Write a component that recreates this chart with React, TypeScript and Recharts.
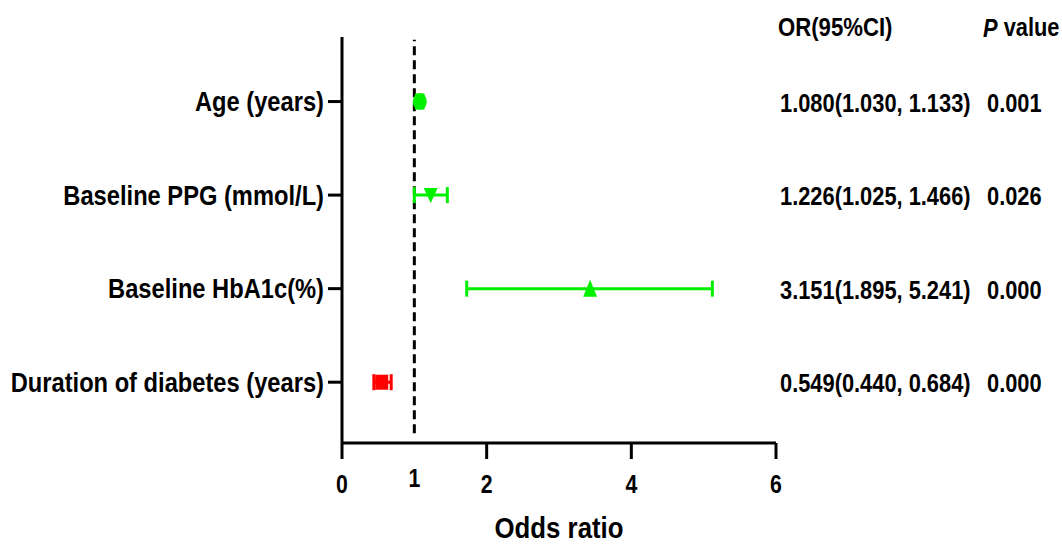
import React from 'react';
import { ScatterChart, Scatter, XAxis, YAxis, ErrorBar, ReferenceLine } from 'recharts';

const categories = ['Duration of diabetes (years)', 'Baseline HbA1c(%)', 'Baseline PPG (mmol/L)', 'Age (years)'];
const rowPositions = [1, 2, 3, 4];
const oddsRatios = [0.549, 3.43, 1.226, 1.075];
const ciLower = [0.44, 1.724, 1.0, 1.03];
const ciUpper = [0.68, 5.12, 1.456, 1.12];
const orLabels = ['0.549(0.440, 0.684)', '3.151(1.895, 5.241)', '1.226(1.025, 1.466)', '1.080(1.030, 1.133)'];
const pLabels = ['0.000', '0.000', '0.026', '0.001'];
const xTicks = [0, 1, 2, 4, 6];
const seriesColors = ['#ff0000', '#00f000', '#00f000', '#00f000'];

const FONT = '"Liberation Sans", Arial, sans-serif';

const rows = categories.map((c, i) => ({
  name: c,
  x: oddsRatios[i],
  y: rowPositions[i],
  err: [oddsRatios[i] - ciLower[i], ciUpper[i] - oddsRatios[i]],
}));

const NText = ({ x, y, size, sx = 0.85, anchor = 'start', children }: any) => (
  <text
    transform={`translate(${x},${y}) scale(${sx},1)`}
    x={0}
    y={0}
    textAnchor={anchor}
    dominantBaseline="central"
    fontSize={size}
    fontWeight="bold"
    fontFamily={FONT}
    fill="#000"
  >
    {children}
  </text>
);

const shapes: ((p: any, color: string) => React.ReactElement)[] = [
  (p, color) => <rect x={p.cx - 6.5} y={p.cy - 7.5} width={13} height={15} fill={color} />,
  (p, color) => (
    <polygon points={`${p.cx - 7},${p.cy + 8} ${p.cx + 7},${p.cy + 8} ${p.cx},${p.cy - 9}`} fill={color} />
  ),
  (p, color) => (
    <polygon points={`${p.cx - 7},${p.cy - 7} ${p.cx + 7},${p.cy - 7} ${p.cx},${p.cy + 8}`} fill={color} />
  ),
  (p, color) => <ellipse cx={p.cx} cy={p.cy} rx={7} ry={8.5} fill={color} />,
];

// Left tick: category label, plus the OR(95%CI) and P value columns of the same row.
const YTick = (props: any) => {
  const { x, y, payload } = props;
  const idx = rowPositions.indexOf(payload.value);
  return (
    <g>
      <NText x={x} y={y} size={27} sx={0.878} anchor="end">{categories[idx]}</NText>
      <NText x={x + 456} y={y + 1} size={26} sx={0.84}>{orLabels[idx]}</NText>
      <NText x={x + 663} y={y + 1} size={26} sx={0.84}>{pLabels[idx]}</NText>
    </g>
  );
};

const XTick = (props: any) => {
  const { x, y, payload } = props;
  const isRef = payload.value === 1;
  return (
    <g>
      {!isRef && <line x1={x} x2={x} y1={y} y2={y + 16} stroke="#000" strokeWidth={3} />}
      <NText x={x} y={y + (isRef ? 35 : 41)} size={25} anchor="middle">{payload.value}</NText>
    </g>
  );
};

const HeaderLabel = (props: any) => {
  const { viewBox } = props;
  const x = viewBox.x + viewBox.width;
  const y = viewBox.y - 10;
  return (
    <g>
      <NText x={x + 436} y={y} size={26} sx={0.852}>OR(95%CI)</NText>
      <text
        transform={`translate(${x + 641},${y}) scale(0.84,1)`}
        dominantBaseline="central"
        fontSize={26}
        fontWeight="bold"
        fontFamily={FONT}
        fill="#000"
      >
        <tspan fontStyle="italic">P</tspan> value
      </text>
    </g>
  );
};

const XTitle = (props: any) => {
  const { viewBox } = props;
  return (
    <NText x={viewBox.x + viewBox.width / 2} y={viewBox.y + 85} size={30} sx={0.86} anchor="middle">
      Odds ratio
    </NText>
  );
};

export default function App() {
  return (
    <div style={{ position: 'absolute', left: 0, top: 0, background: '#fff' }}>
      <ScatterChart width={1062} height={544} margin={{ top: 37, right: 286, bottom: 0, left: 0 }}>
        <XAxis
          type="number"
          dataKey="x"
          domain={[0, 6]}
          ticks={xTicks}
          interval={0}
          height={101}
          tickSize={0}
          tickMargin={0}
          tickLine={false}
          axisLine={{ stroke: '#000', strokeWidth: 3 }}
          tick={<XTick />}
          label={<XTitle />}
        />
        <YAxis
          type="number"
          dataKey="y"
          domain={[0.35, 4.69]}
          ticks={rowPositions}
          interval={0}
          width={342}
          tickSize={14}
          tickMargin={4}
          axisLine={{ stroke: '#000', strokeWidth: 3 }}
          tickLine={{ stroke: '#000', strokeWidth: 3 }}
          tick={<YTick />}
          label={<HeaderLabel />}
        />
        <ReferenceLine
          segment={[{ x: 1, y: 0.455 }, { x: 1, y: 4.66 }]}
          stroke="#000"
          strokeWidth={3}
          strokeDasharray="9 5"
        />
        {rows.map((r, i) => (
          <Scatter
            key={r.name}
            name={r.name}
            data={[r]}
            fill={seriesColors[i]}
            isAnimationActive={false}
            shape={(p: any) => shapes[i](p, seriesColors[i])}
          >
            <ErrorBar dataKey="err" direction="x" width={8} stroke={seriesColors[i]} strokeWidth={3} />
          </Scatter>
        ))}
      </ScatterChart>
    </div>
  );
}
